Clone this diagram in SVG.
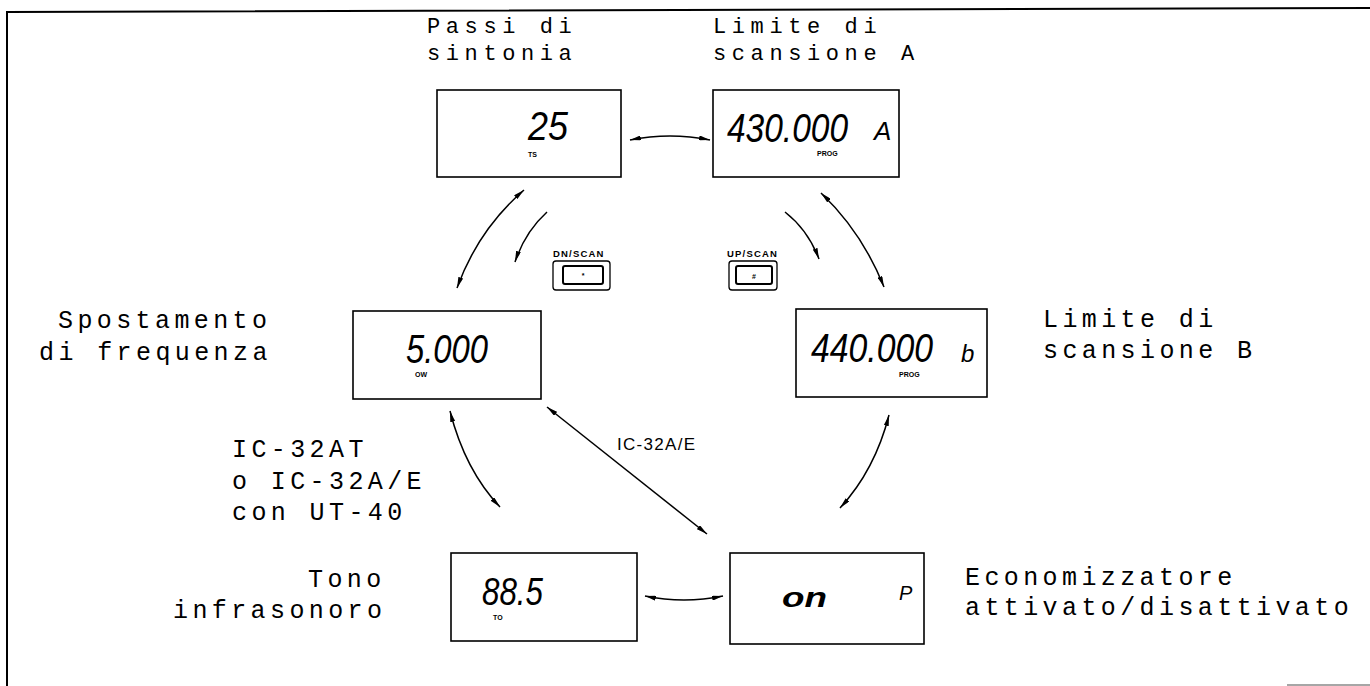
<svg xmlns="http://www.w3.org/2000/svg" width="1370" height="686" viewBox="0 0 1370 686">
<style>
.lbl{font-family:"Liberation Mono","DejaVu Sans Mono",monospace;font-size:25px;letter-spacing:4.4px;fill:#000}
.top{font-size:22px;letter-spacing:5.6px}
.box{fill:#fff;stroke:#000;stroke-width:1.6}
.seg{font-family:"Liberation Sans","DejaVu Sans",sans-serif;font-style:italic;fill:#000}
.tiny{font-family:"Liberation Sans","DejaVu Sans",sans-serif;font-weight:bold;font-size:7px;fill:#000}
.key{font-family:"Liberation Sans","DejaVu Sans",sans-serif;font-weight:bold;font-size:9.5px;letter-spacing:1.2px;fill:#000}
.con{fill:none;stroke:#000;stroke-width:1.5}
</style>
<defs>
<marker id="ah" viewBox="0 0 11 5" refX="11" refY="2.5" markerWidth="11" markerHeight="5" markerUnits="userSpaceOnUse" orient="auto-start-reverse">
<path d="M0,0 L11,2.5 L0,5 z" fill="#000"/>
</marker>
</defs>
<rect width="1370" height="686" fill="#fff"/>
<g id="frame">
<path d="M7,686 L7,12 L1370,8" fill="none" stroke="#000" stroke-width="2"/>
<path d="M1287,685 L1370,685" stroke="#888" stroke-width="1.5"/>
</g>
<g id="labels">
<text class="lbl top" x="427" y="33">Passi di</text>
<text class="lbl top" x="427" y="60">sintonia</text>
<text class="lbl top" x="713" y="33">Limite di</text>
<text class="lbl top" x="713" y="60">scansione A</text>
<text class="lbl" x="58" y="328">Spostamento</text>
<text class="lbl" x="39" y="360">di frequenza</text>
<text class="lbl" x="1043" y="327">Limite di</text>
<text class="lbl" x="1043" y="358">scansione B</text>
<text class="lbl" x="232" y="457">IC-32AT</text>
<text class="lbl" x="232" y="489">o IC-32A/E</text>
<text class="lbl" x="232" y="520">con UT-40</text>
<text class="lbl" x="308" y="587">Tono</text>
<text class="lbl" x="173" y="618">infrasonoro</text>
<text class="lbl" x="965" y="585">Economizzatore</text>
<text class="lbl" x="965" y="615">attivato/disattivato</text>
</g>
<g id="node-ts">
<rect class="box" x="437" y="90" width="184" height="87"/>
<text class="seg" x="528" y="140" font-size="40" textLength="40" lengthAdjust="spacingAndGlyphs">25</text>
<text class="tiny" x="528" y="157">TS</text>
</g>
<g id="node-proga">
<rect class="box" x="713" y="90" width="186" height="87"/>
<text class="seg" x="727" y="142" font-size="40" textLength="121" lengthAdjust="spacingAndGlyphs">430.000</text>
<text class="seg" x="874" y="140" font-size="26">A</text>
<text class="tiny" x="817" y="156">PROG</text>
</g>
<g id="node-ow">
<rect class="box" x="353" y="311" width="188" height="88"/>
<text class="seg" x="406" y="363" font-size="40" textLength="82" lengthAdjust="spacingAndGlyphs">5.000</text>
<text class="tiny" x="415" y="377">OW</text>
</g>
<g id="node-progb">
<rect class="box" x="796" y="309" width="191" height="88"/>
<text class="seg" x="811" y="362" font-size="40" textLength="122" lengthAdjust="spacingAndGlyphs">440.000</text>
<text class="seg" x="961" y="362" font-size="24">b</text>
<text class="tiny" x="899" y="377">PROG</text>
</g>
<g id="node-to">
<rect class="box" x="451" y="553" width="186" height="88"/>
<text class="seg" x="482" y="605" font-size="39" textLength="61" lengthAdjust="spacingAndGlyphs">88.5</text>
<text class="tiny" x="493" y="620">TO</text>
</g>
<g id="node-p">
<rect class="box" x="730" y="553" width="194" height="91"/>
<text class="seg" x="782" y="607" font-size="28" font-weight="bold" textLength="45" lengthAdjust="spacingAndGlyphs">on</text>
<text class="seg" x="899" y="600" font-size="20">P</text>
</g>
<g id="key-dn">
<text class="key" x="553" y="257">DN/SCAN</text>
<rect x="553" y="261" width="57" height="29" rx="3" fill="none" stroke="#000" stroke-width="1.3"/>
<rect x="563" y="266" width="40" height="18" rx="2" fill="none" stroke="#000" stroke-width="2"/>
<text class="tiny" x="583" y="278" text-anchor="middle" font-size="9">*</text>
</g>
<g id="key-up">
<text class="key" x="727" y="257">UP/SCAN</text>
<rect x="729" y="261" width="48" height="29" rx="3" fill="none" stroke="#000" stroke-width="1.3"/>
<rect x="736" y="266" width="36" height="18" rx="2" fill="none" stroke="#000" stroke-width="2"/>
<text class="tiny" x="754" y="279" text-anchor="middle" font-size="9">#</text>
</g>
<g id="connectors">
<path class="con" d="M630,140 Q670,132 710,140" marker-start="url(#ah)" marker-end="url(#ah)"/>
<path class="con" d="M524,190 Q478,230 457,288" marker-start="url(#ah)" marker-end="url(#ah)"/>
<path class="con" d="M547,212 Q525,232 515,262" marker-end="url(#ah)"/>
<path class="con" d="M785,212 Q808,230 819,259" marker-end="url(#ah)"/>
<path class="con" d="M821,193 Q862,232 884,287" marker-start="url(#ah)" marker-end="url(#ah)"/>
<path class="con" d="M889,415 Q875,470 840,508" marker-start="url(#ah)" marker-end="url(#ah)"/>
<path class="con" d="M450,411 Q465,470 500,507" marker-start="url(#ah)" marker-end="url(#ah)"/>
<path class="con" d="M547,407 L707,534" stroke-width="1.2" marker-start="url(#ah)" marker-end="url(#ah)"/>
<path class="con" d="M645,596 Q684,604 723,596" marker-start="url(#ah)" marker-end="url(#ah)"/>
<text x="617" y="450" font-family="Liberation Sans, DejaVu Sans, sans-serif" font-size="17" letter-spacing="1.3">IC-32A/E</text>
</g>
</svg>
